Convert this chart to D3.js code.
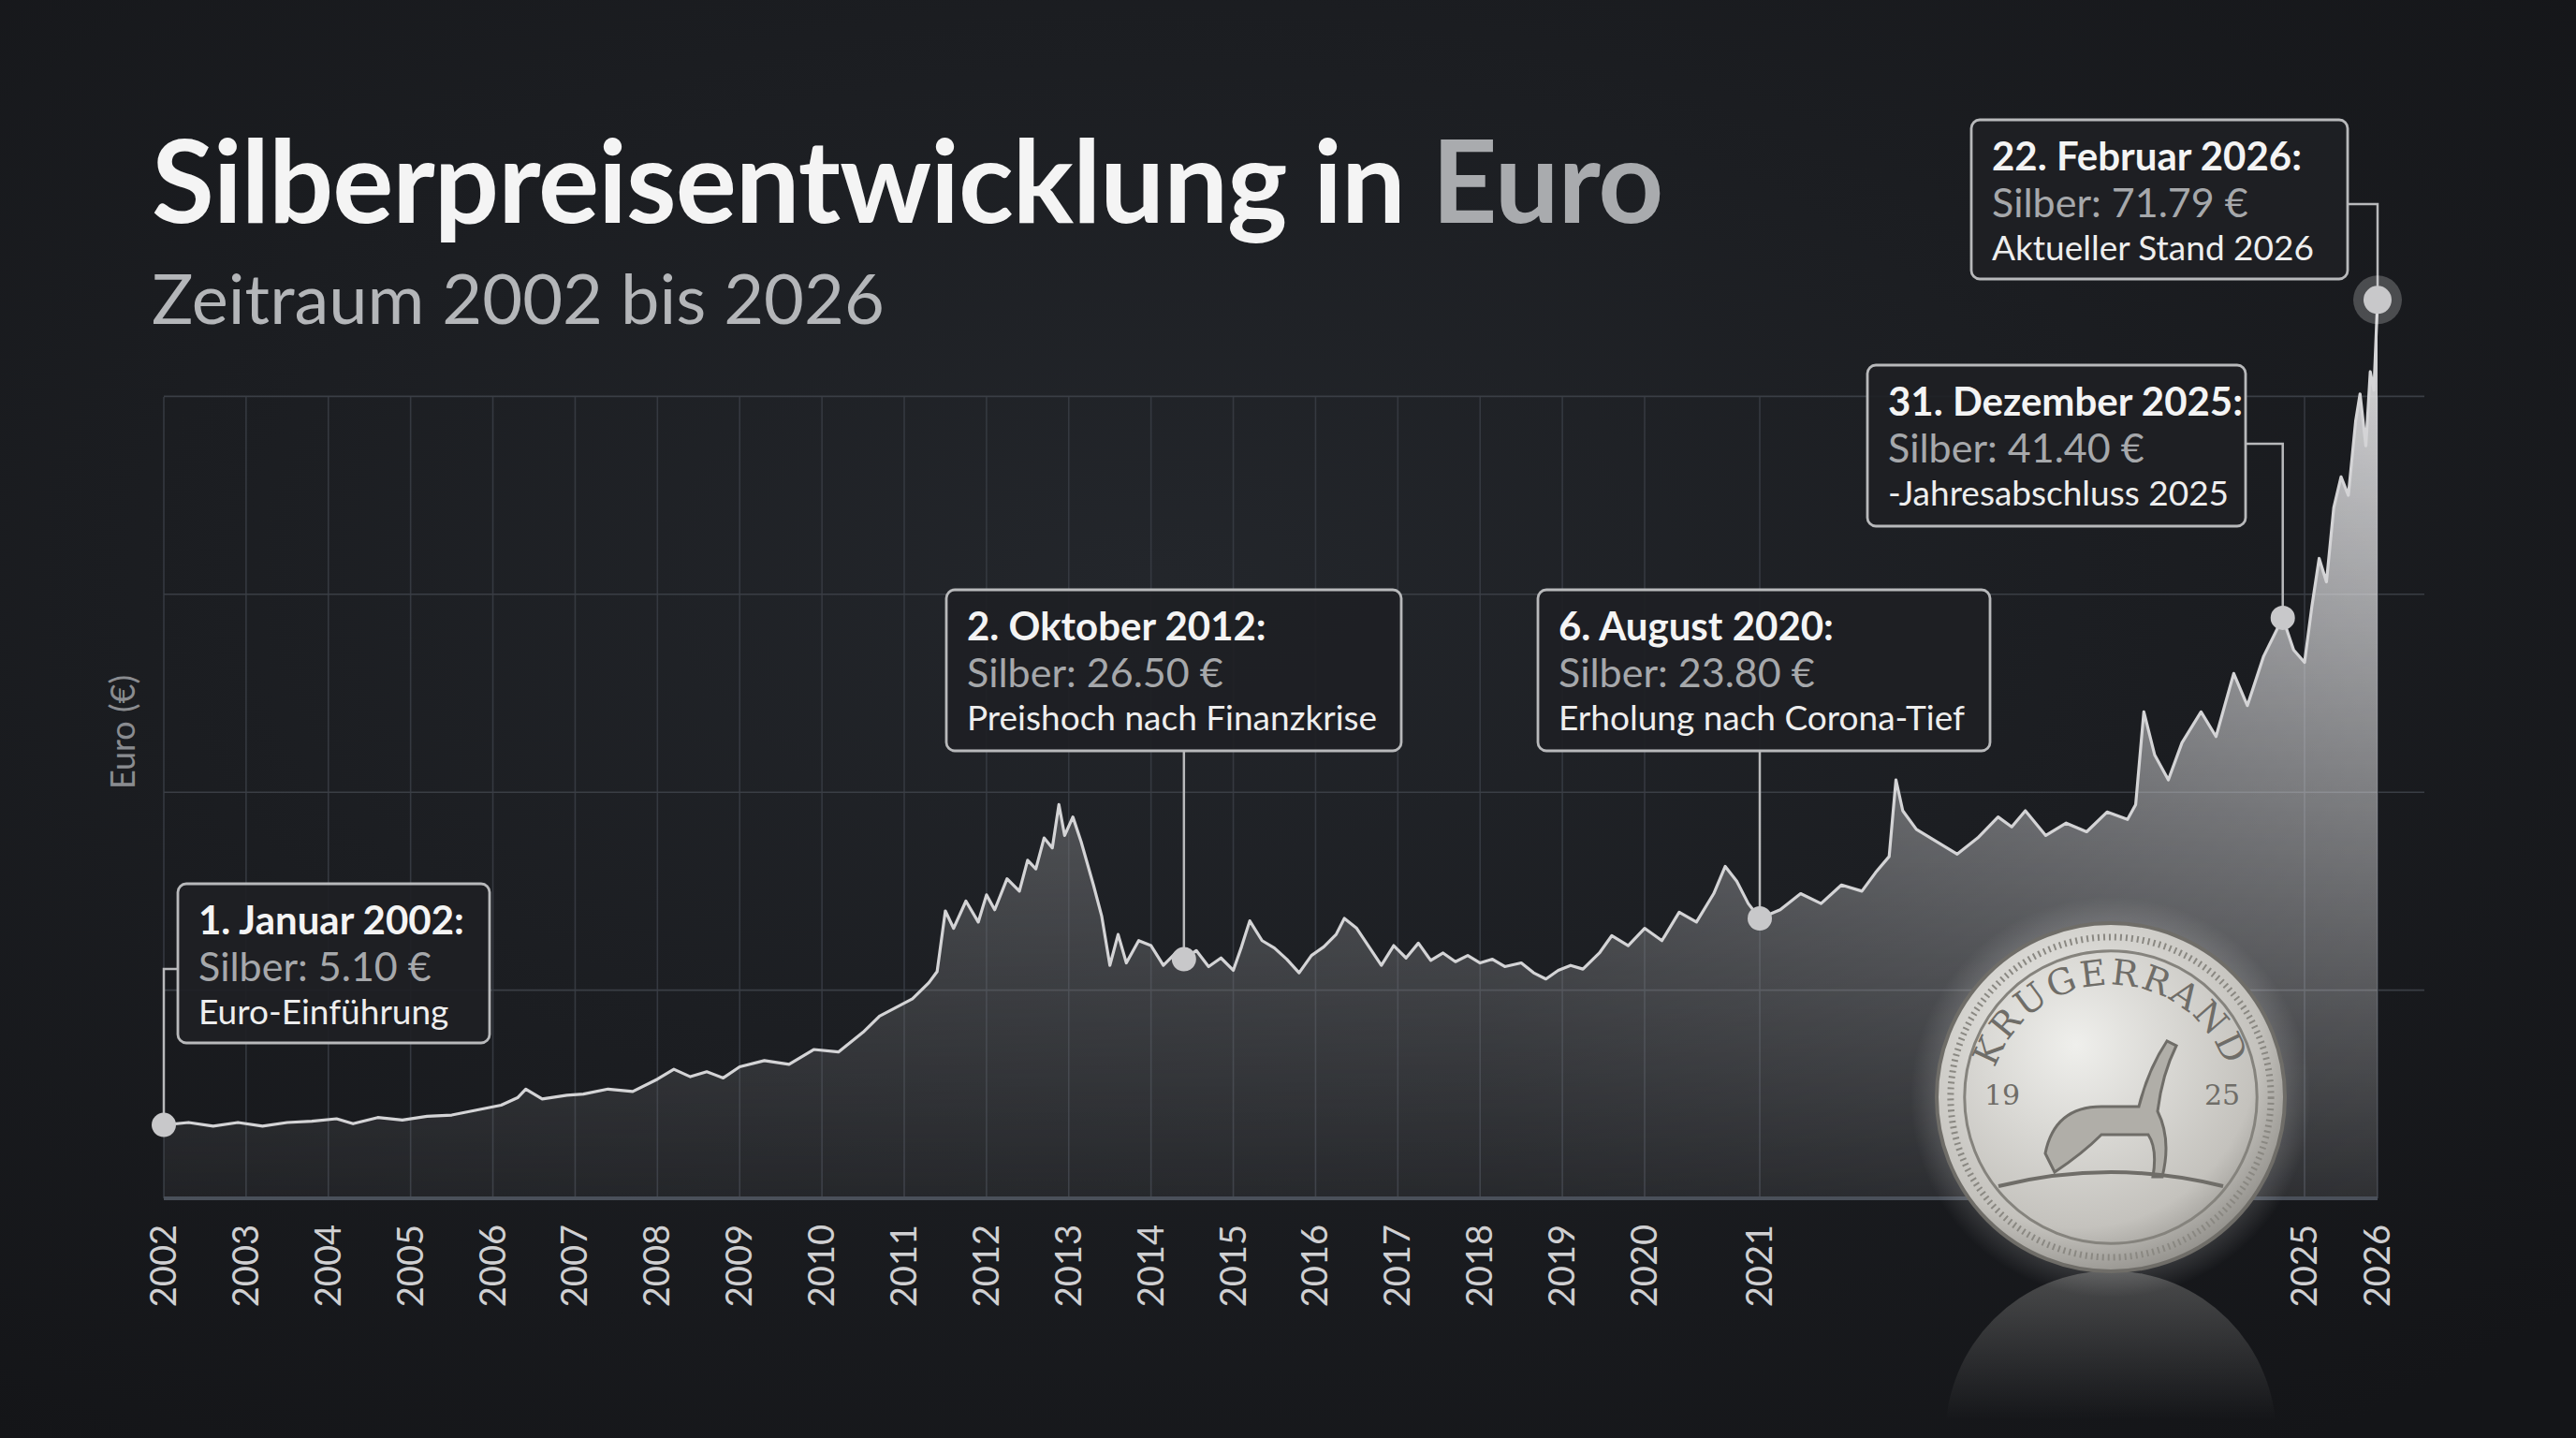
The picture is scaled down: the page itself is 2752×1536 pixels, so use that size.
<!DOCTYPE html>
<html><head><meta charset="utf-8">
<script src="https://cdn.jsdelivr.net/npm/d3@7/dist/d3.min.js"></script>
<style>html,body{margin:0;padding:0;background:#1b1d21;overflow:hidden}</style>
</head><body><svg id="c" width="2752" height="1536"></svg>
<script>
// ---- data ----
const yearTicks = [2002,2003,2004,2005,2006,2007,2008,2009,2010,2011,2012,2013,2014,2015,2016,2017,2018,2019,2020,2021,2025,2026];
// [axis time, silver price EUR]
const series = [[2002,5.1],[2002.3,5.3],[2002.6,5.0],[2002.9,5.3],[2003.2,5.0],[2003.5,5.3],[2003.8,5.4],[2004.1,5.6],[2004.3,5.2],[2004.6,5.7],[2004.9,5.5],[2005.2,5.8],[2005.5,5.9],[2005.8,6.3],[2006.1,6.7],[2006.3,7.3],[2006.4,8.0],[2006.6,7.2],[2006.9,7.5],[2007.1,7.6],[2007.4,8.0],[2007.7,7.8],[2008.0,8.8],[2008.2,9.6],[2008.4,9.0],[2008.6,9.4],[2008.8,8.9],[2009.0,9.8],[2009.3,10.3],[2009.6,10.0],[2009.9,11.2],[2010.2,11.0],[2010.5,12.6],[2010.7,13.9],[2010.9,14.6],[2011.1,15.3],[2011.3,16.6],[2011.4,17.5],[2011.5,22.4],[2011.6,21.0],[2011.75,23.2],[2011.9,21.5],[2012.0,23.7],[2012.1,22.5],[2012.25,25.0],[2012.4,24.0],[2012.5,26.5],[2012.6,25.8],[2012.7,28.3],[2012.8,27.5],[2012.88,31.0],[2012.95,28.5],[2013.05,30.0],[2013.15,28.0],[2013.3,24.5],[2013.4,22.0],[2013.5,18.0],[2013.6,20.5],[2013.7,18.2],[2013.85,20.0],[2014.0,19.6],[2014.15,18.0],[2014.3,19.0],[2014.4,18.5],[2014.55,19.2],[2014.7,17.9],[2014.85,18.6],[2015.0,17.6],[2015.1,19.5],[2015.2,21.6],[2015.35,20.0],[2015.5,19.4],[2015.65,18.5],[2015.8,17.4],[2015.95,18.8],[2016.1,19.5],[2016.25,20.5],[2016.35,21.8],[2016.5,21.0],[2016.65,19.5],[2016.8,18.0],[2016.95,19.6],[2017.1,18.6],[2017.25,19.8],[2017.4,18.4],[2017.55,19.0],[2017.7,18.3],[2017.85,18.8],[2018.0,18.2],[2018.15,18.5],[2018.3,17.9],[2018.5,18.2],[2018.65,17.4],[2018.8,16.9],[2018.95,17.6],[2019.1,18.0],[2019.25,17.7],[2019.45,19.0],[2019.6,20.4],[2019.8,19.6],[2020.0,21.0],[2020.15,20.0],[2020.3,22.3],[2020.45,21.5],[2020.6,23.8],[2020.7,26.0],[2020.8,24.8],[2020.9,23.0],[2021.0,21.8],[2021.15,22.5],[2021.3,23.8],[2021.45,23.0],[2021.6,24.5],[2021.75,24.0],[2021.85,25.5],[2021.95,26.8],[2022.0,33.0],[2022.05,30.5],[2022.15,29.0],[2022.3,28.0],[2022.45,27.0],[2022.6,28.3],[2022.75,30.0],[2022.85,29.2],[2022.95,30.5],[2023.1,28.5],[2023.25,29.5],[2023.4,28.8],[2023.55,30.4],[2023.7,29.8],[2023.76,31.0],[2023.82,38.5],[2023.9,35.0],[2024.0,33.0],[2024.1,36.0],[2024.24,38.5],[2024.35,36.5],[2024.48,41.6],[2024.58,39.0],[2024.7,43.0],[2024.84,46.1],[2024.92,43.5],[2025.0,42.5],[2025.1,47.0],[2025.2,50.9],[2025.3,49.0],[2025.4,55.0],[2025.5,57.5],[2025.6,56.0],[2025.7,62.0],[2025.76,64.2],[2025.84,60.0],[2025.9,66.0],[2025.95,64.5],[2026.0,71.8]];
const annotDates = ["1. Januar 2002:","2. Oktober 2012:","6. August 2020:","31. Dezember 2025:","22. Februar 2026:"];
const annotPrices = ["Silber: 5.10 €","Silber: 26.50 €","Silber: 23.80 €","Silber: 41.40 €","Silber: 71.79 €"];
const annotNotes = ["Euro-Einführung","Preishoch nach Finanzkrise","Erholung nach Corona-Tief","-Jahresabschluss 2025","Aktueller Stand 2026"];
const annotT = [2002, 2014.4, 2021, 2024.84, 2026];
const gridValues = [16,32,48,64];

// ---- layout ----
const svg = d3.select("#c");
const W=2752,H=1536, left=175, right=2540, bottom=1280, gridTop=424;
const x = d3.scaleLinear().domain([2002,2020,2021,2025,2026]).range([left,1757,1880,2462,2540]);
const y = d3.scaleLinear().domain([0,80]).range([1269,212]);
const font = "Lato,'Open Sans',sans-serif";

const defs = svg.append("defs");
const bg = defs.append("radialGradient").attr("id","bg").attr("cx","45%").attr("cy","40%").attr("r","75%");
bg.append("stop").attr("offset","0").attr("stop-color","#23262b");
bg.append("stop").attr("offset","1").attr("stop-color","#141518");
svg.append("rect").attr("width",W).attr("height",H).attr("fill","url(#bg)");

const ag = defs.append("linearGradient").attr("id","area").attr("x1","0").attr("y1","0").attr("x2","1").attr("y2","0");
ag.append("stop").attr("offset","0").attr("stop-color","#6a6b6e");
ag.append("stop").attr("offset","0.6").attr("stop-color","#8c8d90");
ag.append("stop").attr("offset","1").attr("stop-color","#e8e8ea");
const am = defs.append("linearGradient").attr("id","fade").attr("x1","0").attr("y1","0").attr("x2","0").attr("y2","1");
am.append("stop").attr("offset","0").attr("stop-color","#fff").attr("stop-opacity",1);
am.append("stop").attr("offset","1").attr("stop-color","#fff").attr("stop-opacity",0.12);
defs.append("mask").attr("id","m").append("rect").attr("x",0).attr("y",250).attr("width",W).attr("height",bottom-250).attr("fill","url(#fade)");

// grid
svg.append("g").selectAll("line").data(yearTicks).join("line")
 .attr("x1",d=>x(d)).attr("x2",d=>x(d)).attr("y1",gridTop).attr("y2",bottom)
 .attr("stroke","#353940").attr("stroke-width",1.6);
svg.append("g").selectAll("line").data(gridValues).join("line")
 .attr("x1",left).attr("x2",2590).attr("y1",d=>y(d)).attr("y2",d=>y(d))
 .attr("stroke","#3a3e45").attr("stroke-width",1.6);

const area = d3.area().x(d=>x(d[0])).y0(bottom).y1(d=>y(d[1]));
const line = d3.line().x(d=>x(d[0])).y(d=>y(d[1]));
svg.append("path").attr("d",area(series)).attr("fill","url(#area)").attr("mask","url(#m)");
svg.append("path").attr("d",line(series)).attr("fill","none").attr("stroke","#d4d4d6").attr("stroke-width",3.2).attr("stroke-linejoin","round");

// axis line
svg.append("line").attr("x1",left).attr("x2",right).attr("y1",bottom).attr("y2",bottom).attr("stroke","#4a505a").attr("stroke-width",4);

// year labels
svg.append("g").selectAll("text").data(yearTicks).join("text")
 .attr("transform",d=>`translate(${x(d)+13},1308) rotate(-90)`)
 .attr("text-anchor","end").attr("font-family",font).attr("font-size",38).attr("fill","#d0d0d2").text(d=>d);

// y label
svg.append("text").attr("transform","translate(144,782) rotate(-90)").attr("text-anchor","middle")
 .attr("font-family",font).attr("font-size",36).attr("fill","#8a8c90").text("Euro (€)");

// title
const tt = svg.append("text").attr("x",162).attr("y",238).attr("font-family",font).attr("font-size",122).attr("font-weight",700).attr("letter-spacing",-1).attr("fill","#f4f4f4");
tt.append("tspan").text("Silberpreisentwicklung in ");
tt.append("tspan").attr("fill","#a9abae").text("Euro");
svg.append("text").attr("x",162).attr("y",346).attr("font-family",font).attr("font-size",74).attr("fill","#b4b6b9").text("Zeitraum 2002 bis 2026");

// coin
const cx=2255, cy=1172, r=186;
const cg = defs.append("radialGradient").attr("id","coin").attr("cx","40%").attr("cy","35%").attr("r","70%");
cg.append("stop").attr("offset","0").attr("stop-color","#efefec");
cg.append("stop").attr("offset","0.75").attr("stop-color","#c4c2bd");
cg.append("stop").attr("offset","1").attr("stop-color","#8d8b86");
const glow = defs.append("radialGradient").attr("id","glow");
glow.append("stop").attr("offset","0.75").attr("stop-color","#fff").attr("stop-opacity",0.25);
glow.append("stop").attr("offset","1").attr("stop-color","#fff").attr("stop-opacity",0);
const rf = defs.append("linearGradient").attr("id","refl").attr("x1","0").attr("y1","0").attr("x2","0").attr("y2","1");
rf.append("stop").attr("offset","0").attr("stop-color","#8a8a88").attr("stop-opacity",0.45);
rf.append("stop").attr("offset","0.45").attr("stop-color","#8a8a88").attr("stop-opacity",0);
svg.append("circle").attr("cx",cx).attr("cy",cy+2*r-10).attr("r",r*0.95).attr("fill","url(#refl)");
svg.append("circle").attr("cx",cx).attr("cy",cy).attr("r",r*1.15).attr("fill","url(#glow)");
svg.append("circle").attr("cx",cx).attr("cy",cy).attr("r",r).attr("fill","url(#coin)").attr("stroke","#6f6d68").attr("stroke-width",4);
svg.append("circle").attr("cx",cx).attr("cy",cy).attr("r",r*0.92).attr("fill","none").attr("stroke","#8a8882").attr("stroke-width",7).attr("stroke-dasharray","2 4");
svg.append("circle").attr("cx",cx).attr("cy",cy).attr("r",r*0.84).attr("fill","none").attr("stroke","#85837d").attr("stroke-width",3);
defs.append("path").attr("id","arc").attr("d",`M${cx-r*0.7},${cy+10} A${r*0.7},${r*0.7} 0 0 1 ${cx+r*0.7},${cy+10}`);
svg.append("text").attr("font-family","'DejaVu Serif',serif").attr("font-size",38).attr("fill","#6f6d68").attr("letter-spacing",3)
 .append("textPath").attr("href","#arc").attr("startOffset","50%").attr("text-anchor","middle").text("KRUGERRAND");
svg.append("text").attr("x",cx-135).attr("y",cy+8).attr("font-family","'DejaVu Serif',serif").attr("font-size",30).attr("fill","#6f6d68").text("19");
svg.append("text").attr("x",cx+100).attr("y",cy+8).attr("font-family","'DejaVu Serif',serif").attr("font-size",30).attr("fill","#6f6d68").text("25");
svg.append("path").attr("d",`M${cx-70},${cy+60} q10,-50 60,-50 l40,0 q10,-40 30,-70 l10,5 q-15,30 -20,70 q15,30 5,70 l-10,0 q5,-30 -5,-45 l-50,0 q-20,20 -50,40z`)
 .attr("fill","#b0aea8").attr("stroke","#6f6d68").attr("stroke-width",3);
svg.append("path").attr("d",`M${cx-120},${cy+95} q120,-30 240,0`).attr("fill","none").attr("stroke","#6f6d68").attr("stroke-width",4);

// annotations
const boxes = [
 {x:190,y:944,w:333,h:170, ly:1035, side:"left"},
 {x:1011,y:630,w:486,h:172, side:"bottom"},
 {x:1643,y:630,w:483,h:172, side:"bottom"},
 {x:1995,y:390,w:404,h:172, ly:474, side:"right"},
 {x:2106,y:128,w:402,h:170, ly:218, side:"right"}
];
const av = d3.scaleLinear().domain(series.map(d=>d[0])).range(series.map(d=>d[1]));
annotT.forEach((t,i)=>{
  const b=boxes[i], px=x(t), py=y(av(t));
  let path;
  if(b.side==="left") path=`M${b.x},${b.ly} H${px} V${py}`;
  else if(b.side==="bottom") path=`M${px},${b.y+b.h} V${py}`;
  else path=`M${b.x+b.w},${b.ly} H${px} V${py}`;
  svg.append("path").attr("d",path).attr("fill","none").attr("stroke","#b8b9bb").attr("stroke-width",2.5);
  if(i===4) svg.append("circle").attr("cx",px).attr("cy",py).attr("r",26).attr("fill","#ffffff").attr("opacity",0.22);
  svg.append("circle").attr("cx",px).attr("cy",py).attr("r",i===4?15:13).attr("fill","#c8c8ca");
  svg.append("rect").attr("x",b.x).attr("y",b.y).attr("width",b.w).attr("height",b.h).attr("rx",9)
    .attr("fill","#1e2024").attr("fill-opacity",0.92).attr("stroke","#b8b9bb").attr("stroke-width",2.8);
  const tx=b.x+22;
  svg.append("text").attr("x",tx).attr("y",b.y+54).attr("font-family",font).attr("font-weight",700).attr("font-size",42).attr("fill","#f4f4f4").text(annotDates[i]);
  svg.append("text").attr("x",tx).attr("y",b.y+104).attr("font-family",font).attr("font-size",43).attr("fill","#a6a8ab").text(annotPrices[i]);
  svg.append("text").attr("x",tx).attr("y",b.y+150).attr("font-family",font).attr("font-size",37).attr("fill","#eeeeee").text(annotNotes[i]);
});
</script></body></html>
